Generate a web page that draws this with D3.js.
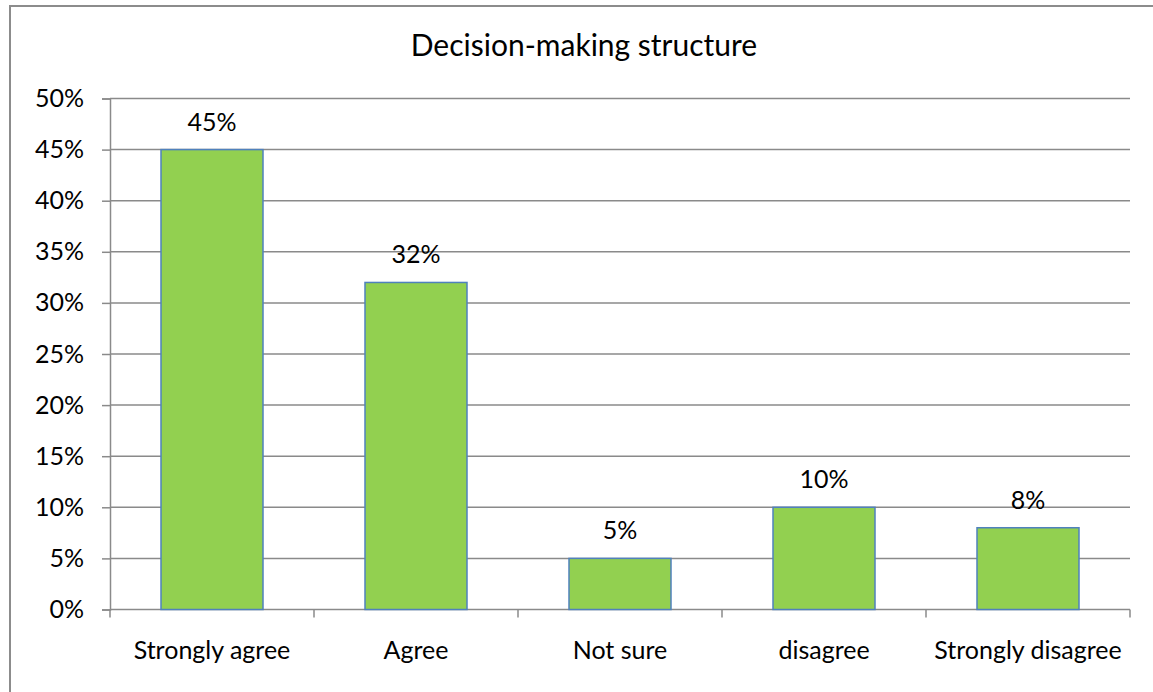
<!DOCTYPE html>
<html>
<head>
<meta charset="utf-8">
<script src="https://cdn.jsdelivr.net/npm/d3@7"></script>
<style>
  html, body { margin: 0; padding: 0; background: #ffffff; }
  svg { display: block; }
  text { font-family: Lato, "Open Sans", sans-serif; fill: #000; }
</style>
</head>
<body>
<svg id="chart" width="1153" height="692"></svg>
<script>
// Survey responses on decision-making structure
const categories = ["Strongly agree", "Agree", "Not sure", "disagree", "Strongly disagree"];
const shares = [45, 32, 5, 10, 8];
const yTicks = [0, 5, 10, 15, 20, 25, 30, 35, 40, 45, 50];
const chartTitle = "Decision-making structure";

const svg = d3.select("#chart");
const W = 1153, H = 692;
const plot = { left: 110, right: 1130, top: 98.5, bottom: 609.5 };
const gridColor = "#8a8a8a";

// Outer frame of the chart
svg.append("rect")
  .attr("x", 10).attr("y", 6)
  .attr("width", 1150).attr("height", 700)
  .attr("fill", "#fff")
  .attr("stroke", "#8c8c8c")
  .attr("stroke-width", 2);

const x = d3.scaleBand()
  .domain(categories)
  .range([plot.left, plot.right])
  .paddingInner(0.5)
  .paddingOuter(0.25);

const y = d3.scaleLinear()
  .domain([0, 50])
  .range([plot.bottom, plot.top]);

// Horizontal gridlines
svg.append("g")
  .selectAll("line")
  .data(yTicks.filter(t => t > 0))
  .join("line")
  .attr("x1", plot.left).attr("x2", plot.right)
  .attr("y1", d => y(d)).attr("y2", d => y(d))
  .attr("stroke", gridColor)
  .attr("stroke-width", 1.5);

// Y axis
const yAxis = svg.append("g")
  .attr("transform", `translate(${plot.left},0)`)
  .call(d3.axisLeft(y).tickValues(yTicks).tickSize(8).tickPadding(18)
    .tickFormat(d => d + "%"));
yAxis.select(".domain").attr("stroke", gridColor).attr("stroke-width", 1.5);
yAxis.selectAll(".tick line").attr("stroke", gridColor).attr("stroke-width", 1.5);
yAxis.selectAll(".tick text")
  .attr("font-size", 25)
  .attr("font-family", "Lato, sans-serif")
  .attr("fill", "#000");

// X axis: line along 0% with ticks at category boundaries
const step = x.step();
const bounds = d3.range(categories.length + 1).map(i => plot.left + i * step);
svg.append("line")
  .attr("x1", plot.left).attr("x2", plot.right)
  .attr("y1", plot.bottom).attr("y2", plot.bottom)
  .attr("stroke", gridColor).attr("stroke-width", 1.5);
svg.append("g")
  .selectAll("line")
  .data(bounds)
  .join("line")
  .attr("x1", d => d).attr("x2", d => d)
  .attr("y1", plot.bottom).attr("y2", plot.bottom + 8)
  .attr("stroke", gridColor).attr("stroke-width", 1.5);

svg.append("g")
  .selectAll("text")
  .data(categories)
  .join("text")
  .attr("x", d => x(d) + x.bandwidth() / 2)
  .attr("y", 659)
  .attr("text-anchor", "middle")
  .attr("font-size", 25)
  .text(d => d);

// Bars
const data = categories.map((c, i) => ({ c, v: shares[i] }));
svg.append("g")
  .selectAll("rect")
  .data(data)
  .join("rect")
  .attr("x", d => x(d.c))
  .attr("y", d => y(d.v))
  .attr("width", x.bandwidth())
  .attr("height", d => y(0) - y(d.v))
  .attr("fill", "#92d050")
  .attr("stroke", "#4f81bd")
  .attr("stroke-width", 1.5);

// Value labels
svg.append("g")
  .selectAll("text")
  .data(data)
  .join("text")
  .attr("x", d => x(d.c) + x.bandwidth() / 2)
  .attr("y", d => y(d.v) - 19)
  .attr("text-anchor", "middle")
  .attr("font-size", 25)
  .text(d => d.v + "%");

// Title
svg.append("text")
  .attr("x", 584)
  .attr("y", 56)
  .attr("text-anchor", "middle")
  .attr("font-size", 30)
  .text(chartTitle);
</script>
</body>
</html>
